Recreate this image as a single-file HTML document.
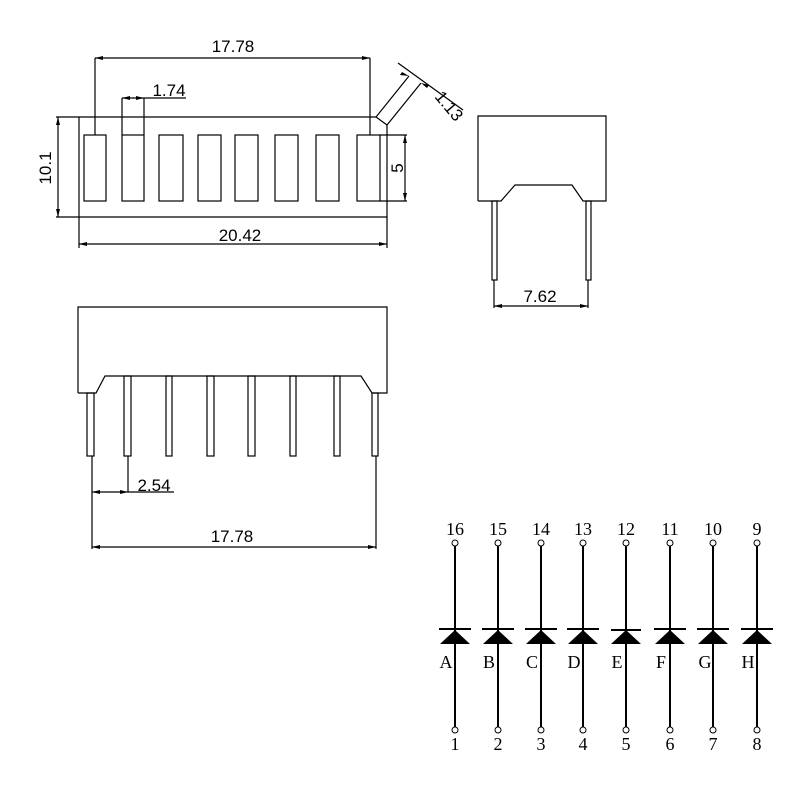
<!DOCTYPE html><html><head><style>body{margin:0;background:#fff}svg{display:block}</style></head><body>
<svg width="800" height="800" viewBox="0 0 800 800" xmlns="http://www.w3.org/2000/svg">
<g fill="none" stroke="#000" stroke-width="1.2">
<polyline points="376,117 79,117 79,217 387,217 387,125"/>
<line x1="376" y1="117" x2="387" y2="125"/>
<line x1="376" y1="117" x2="409" y2="76"/>
<line x1="387" y1="125" x2="421" y2="83"/>
<line x1="398" y1="63" x2="463" y2="110"/>
<rect x="84" y="135" width="22" height="66"/>
<rect x="122" y="135" width="22" height="66"/>
<rect x="159" y="135" width="24" height="66"/>
<rect x="198" y="135" width="23" height="66"/>
<rect x="235" y="135" width="23" height="66"/>
<rect x="275" y="135" width="23" height="66"/>
<rect x="316" y="135" width="23" height="66"/>
<rect x="357" y="135" width="23" height="66"/>
<line x1="380" y1="135" x2="407" y2="135"/>
<line x1="380" y1="201" x2="407" y2="201"/>
<line x1="405" y1="135" x2="405" y2="201"/>
<line x1="95" y1="58" x2="370" y2="58"/>
<line x1="95" y1="58" x2="95" y2="135"/>
<line x1="370" y1="58" x2="370" y2="135"/>
<line x1="122" y1="98" x2="186" y2="98"/>
<line x1="122" y1="98" x2="122" y2="135"/>
<line x1="144" y1="98" x2="144" y2="135"/>
<line x1="56" y1="117" x2="79" y2="117"/>
<line x1="56" y1="217" x2="79" y2="217"/>
<line x1="58" y1="117" x2="58" y2="217"/>
<line x1="79" y1="217" x2="79" y2="248"/>
<line x1="387" y1="217" x2="387" y2="248"/>
<line x1="79" y1="244" x2="387" y2="244"/>
<polyline points="478,201 478,116 606,116 606,201 583,201 572,185 515,185 501,201 478,201"/>
<rect x="492" y="201" width="5" height="79"/>
<rect x="586" y="201" width="5" height="79"/>
<line x1="494" y1="280" x2="494" y2="308"/>
<line x1="588" y1="280" x2="588" y2="308"/>
<line x1="494" y1="306" x2="588" y2="306"/>
<polyline points="78,393 78,307 387,307 387,393 372,393 361,376 105,376 96,393 78,393"/>
<rect x="87" y="393" width="7" height="63"/>
<rect x="124" y="376" width="7" height="80"/>
<rect x="166" y="376" width="6" height="80"/>
<rect x="207" y="376" width="7" height="80"/>
<rect x="248" y="376" width="7" height="80"/>
<rect x="290" y="376" width="6" height="80"/>
<rect x="334" y="376" width="6" height="80"/>
<rect x="372" y="393" width="6" height="63"/>
<line x1="92" y1="456" x2="92" y2="549"/>
<line x1="376" y1="456" x2="376" y2="549"/>
<line x1="128" y1="456" x2="128" y2="492"/>
<line x1="92" y1="492" x2="174" y2="492"/>
<line x1="92" y1="547" x2="376" y2="547"/>
</g>
<g fill="#000">
<path d="M95,58l8,-2v4z M370,58l-8,-2v4z M122,98l8,-2v4z M144,98l-8,-2v4z M58,117l-2,8h4z M58,217l-2,-8h4z M79,244l8,-2v4z M387,244l-8,-2v4z M405,135l-2,8h4z M405,201l-2,-8h4z M494,306l8,-2v4z M588,306l-8,-2v4z M92,492l8,-2v4z M128,492l-8,-2v4z M92,547l8,-2v4z M376,547l-8,-2v4z M409,76l-7,-4l-2,3z M421,83l6,5l2,-3z"/>
</g>
<g font-family="Liberation Sans, sans-serif" font-size="17" fill="#000" text-anchor="middle">
<text x="233" y="52">17.78</text>
<text x="169" y="96">1.74</text>
<text x="240" y="241">20.42</text>
<text x="540" y="302">7.62</text>
<text x="154" y="491">2.54</text>
<text x="232" y="542">17.78</text>
<text transform="translate(51,168) rotate(-90)">10.1</text>
<text transform="translate(403,168) rotate(-90)">5</text>
<text text-anchor="start" transform="translate(434,97) rotate(50)">1.13</text>
</g>
<g font-family="Liberation Serif, serif" font-size="18" fill="#000" text-anchor="middle">
<g stroke="#000" stroke-width="2">
<line x1="455" y1="546" x2="455" y2="727"/><line x1="498" y1="546" x2="498" y2="727"/><line x1="541" y1="546" x2="541" y2="727"/><line x1="583" y1="546" x2="583" y2="727"/><line x1="626" y1="546" x2="626" y2="727"/><line x1="670" y1="546" x2="670" y2="727"/><line x1="713" y1="546" x2="713" y2="727"/><line x1="757" y1="546" x2="757" y2="727"/>
<line x1="439" y1="629" x2="471" y2="629"/><line x1="482" y1="629" x2="514" y2="629"/><line x1="525" y1="629" x2="557" y2="629"/><line x1="567" y1="629" x2="599" y2="629"/><line x1="611" y1="630" x2="641" y2="630"/><line x1="654" y1="629" x2="686" y2="629"/><line x1="697" y1="629" x2="729" y2="629"/><line x1="741" y1="629" x2="773" y2="629"/>
</g>
<g fill="#000">
<path d="M455,630l-15,14h30z M498,630l-15,14h30z M541,630l-15,14h30z M583,630l-15,14h30z M626,630l-15,14h30z M670,630l-15,14h30z M713,630l-15,14h30z M757,630l-15,14h30z"/>
</g>
<g fill="#fff" stroke="#000" stroke-width="1">
<circle cx="455" cy="543" r="3"/><circle cx="498" cy="543" r="3"/><circle cx="541" cy="543" r="3"/><circle cx="583" cy="543" r="3"/><circle cx="626" cy="543" r="3"/><circle cx="670" cy="543" r="3"/><circle cx="713" cy="543" r="3"/><circle cx="757" cy="543" r="3"/>
<circle cx="455" cy="730" r="3"/><circle cx="498" cy="730" r="3"/><circle cx="541" cy="730" r="3"/><circle cx="583" cy="730" r="3"/><circle cx="626" cy="730" r="3"/><circle cx="670" cy="730" r="3"/><circle cx="713" cy="730" r="3"/><circle cx="757" cy="730" r="3"/>
</g>
<text x="455" y="535">16</text><text x="498" y="535">15</text><text x="541" y="535">14</text><text x="583" y="535">13</text><text x="626" y="535">12</text><text x="670" y="535">11</text><text x="713" y="535">10</text><text x="757" y="535">9</text>
<text x="455" y="750">1</text><text x="498" y="750">2</text><text x="541" y="750">3</text><text x="583" y="750">4</text><text x="626" y="750">5</text><text x="670" y="750">6</text><text x="713" y="750">7</text><text x="757" y="750">8</text>
<text x="446" y="668">A</text><text x="489" y="668">B</text><text x="532" y="668">C</text><text x="574" y="668">D</text><text x="617" y="668">E</text><text x="661" y="668">F</text><text x="705" y="668">G</text><text x="748" y="668">H</text>
</g>
</svg>
</body></html>
